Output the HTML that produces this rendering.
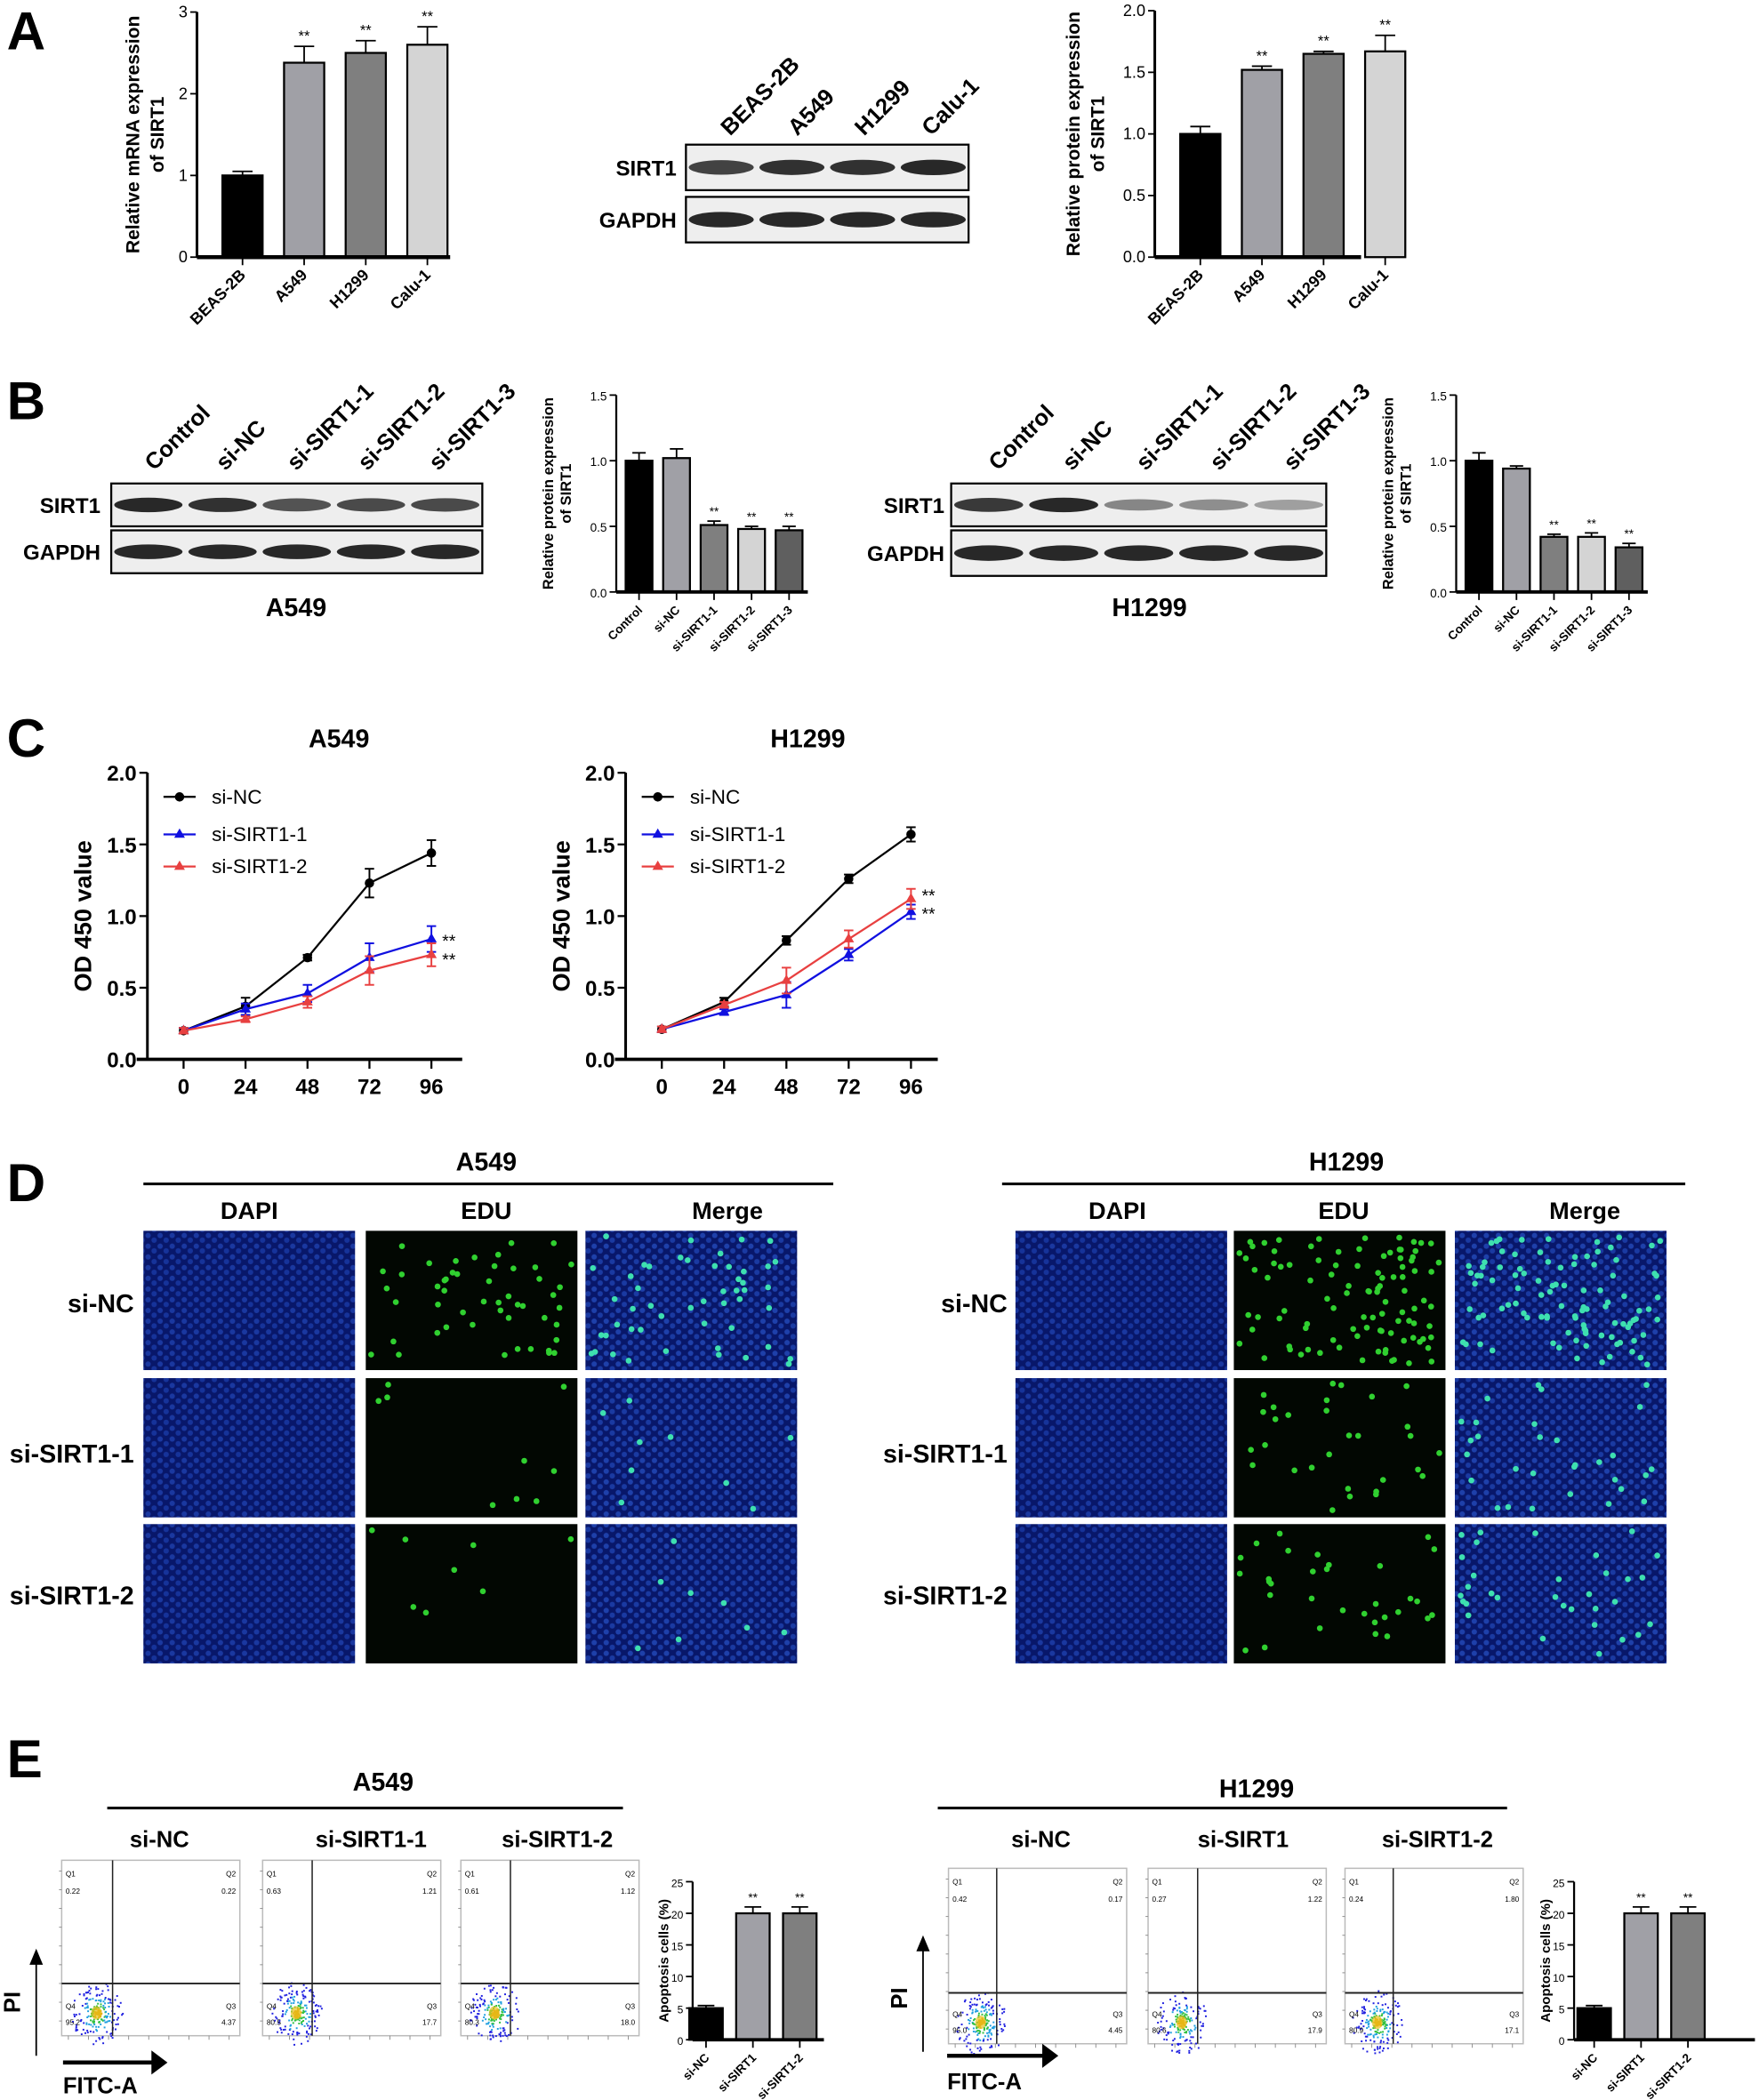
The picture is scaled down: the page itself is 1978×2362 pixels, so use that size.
<!DOCTYPE html>
<html><head><meta charset="utf-8"><style>
html,body{margin:0;padding:0;background:#fff}
svg{display:block}
text{font-family:"Liberation Sans",Arial,sans-serif}
</style></head><body>
<svg id="fig" width="1978" height="2362" viewBox="0 0 1313 1568" xmlns="http://www.w3.org/2000/svg">
<defs>
<pattern id="dapi" width="9" height="8" patternUnits="userSpaceOnUse"><rect width="9" height="8" fill="#08176a"/><circle cx="2.5" cy="2.5" r="2" fill="#1a38a0"/><circle cx="7" cy="6" r="2" fill="#16339a"/></pattern>
<pattern id="merge" width="9" height="8" patternUnits="userSpaceOnUse"><rect width="9" height="8" fill="#08176a"/><circle cx="2.5" cy="2.5" r="2" fill="#1e40aa"/><circle cx="7" cy="6" r="2" fill="#1a3aa2"/></pattern>
</defs>
<g id="root"></g>
</svg>
<script>
// ===== Data =====
const mrnaCats=["BEAS-2B","A549","H1299","Calu-1"];
const mrnaVals=[1.0,2.38,2.5,2.6];
const mrnaErr=[0.05,0.2,0.15,0.22];
const protCats=["BEAS-2B","A549","H1299","Calu-1"];
const protVals=[1.0,1.52,1.65,1.67];
const protErr=[0.06,0.03,0.02,0.13];
const siCats=["Control","si-NC","si-SIRT1-1","si-SIRT1-2","si-SIRT1-3"];
const siA549Vals=[1.0,1.02,0.51,0.48,0.47];
const siA549Err=[0.06,0.07,0.03,0.02,0.03];
const siH1299Vals=[1.0,0.94,0.42,0.42,0.34];
const siH1299Err=[0.06,0.02,0.02,0.03,0.03];
const timeTicks=[0,24,48,72,96];
const a549NC=[0.2,0.37,0.71,1.23,1.44];
const a549S1=[0.2,0.35,0.46,0.71,0.84];
const a549S2=[0.2,0.28,0.4,0.62,0.73];
const a549NCerr=[0.02,0.06,0.02,0.1,0.09];
const a549S1err=[0.02,0.04,0.06,0.1,0.09];
const a549S2err=[0.02,0.02,0.04,0.1,0.08];
const h1299NC=[0.21,0.4,0.83,1.26,1.57];
const h1299S1=[0.21,0.33,0.45,0.73,1.03];
const h1299S2=[0.21,0.38,0.55,0.84,1.12];
const h1299NCerr=[0.02,0.03,0.03,0.03,0.05];
const h1299S1err=[0.02,0.02,0.09,0.04,0.05];
const h1299S2err=[0.02,0.02,0.09,0.06,0.07];
const apoA549Cats=["si-NC","si-SIRT1","si-SIRT1-2"];
const apoA549Vals=[5,20,20];
const apoA549Err=[0.4,1,1];
const apoH1299Cats=["si-NC","si-SIRT1","si-SIRT1-2"];
const apoH1299Vals=[5,20,20];
const apoH1299Err=[0.4,1,1];

const NS="http://www.w3.org/2000/svg";
const root=document.getElementById('root');
function mk(tag,attrs,parent,txt){const e=document.createElementNS(NS,tag);for(const k in attrs)e.setAttribute(k,attrs[k]);if(txt!==undefined)e.textContent=txt;(parent||root).appendChild(e);return e;}
function txt(x,y,s,size,opts,parent){opts=opts||{};const a={x:x,y:y,'font-size':size,'font-weight':opts.w||'bold','text-anchor':opts.a||'start',fill:opts.fill||'#000'};if(opts.rot!==undefined)a.transform='rotate('+opts.rot+' '+x+' '+y+')';const t=mk('text',a,parent,s);return t;}

// ===== Bar chart =====
function barChart(name,cfg,cats,vals,errs){
  const g=mk('g',{});
  
  
  const y=v=>cfg.y0-(v/cfg.max)*(cfg.y0-cfg.y1);
  const lw=cfg.lw||2;
  cats.forEach((c,i)=>{
    const cx=cfg.x0+cfg.first+i*cfg.step;
    const top=y(vals[i]);
    const b=mk('rect',{x:cx-cfg.bw/2,y:top,width:cfg.bw,height:cfg.y0-top,fill:cfg.colors[i],stroke:'#000','stroke-width':1.5},g);
    
    
    const et=y(vals[i]+errs[i]);
    mk('line',{x1:cx,x2:cx,y1:top,y2:et,stroke:'#000','stroke-width':1.2},g);
    mk('line',{x1:cx-cfg.bw/4,x2:cx+cfg.bw/4,y1:et,y2:et,stroke:'#000','stroke-width':1.2},g);
    if(cfg.stars&&cfg.stars[i]) txt(cx,et-4,'**',cfg.starSize||11,{a:'middle',w:'normal'},g);
    mk('line',{x1:cx,x2:cx,y1:cfg.y0,y2:cfg.y0+6,stroke:'#000','stroke-width':1.2},g);
    txt(cx+3,cfg.y0+14,c,cfg.catSize||11,{a:'end',rot:-45},g);
  });
  mk('line',{x1:cfg.x0,x2:cfg.x0,y1:cfg.y1,y2:cfg.y0,stroke:'#000','stroke-width':lw},g);
  mk('line',{x1:cfg.x0,x2:cfg.xEnd,y1:cfg.y0,y2:cfg.y0,stroke:'#000','stroke-width':lw+1},g);
  cfg.ticks.forEach(t=>{const ty=y(t);mk('line',{x1:cfg.x0-5,x2:cfg.x0,y1:ty,y2:ty,stroke:'#000','stroke-width':1.2},g);txt(cfg.x0-7,ty+4,cfg.tickFmt?cfg.tickFmt(t):String(t),cfg.tickSize||11,{a:'end',w:'normal'},g);});
  const midY=(cfg.y0+cfg.y1)/2;
  cfg.title.forEach((s,k)=>txt(cfg.titleX+k*cfg.titleGap,midY,s,cfg.titleSize||13,{a:'middle',rot:-90},g));
  return g;
}
// ===== Blot =====
function blot(name,x,y,w,h1,h2,gap,lanes,sirtInt,labelX){
  const g=mk('g',{});
  
  
  [[y,h1,sirtInt,'SIRT1'],[y+h1+gap,h2,lanes.map(()=>1),'GAPDH']].forEach(([yy,hh,ints,lab])=>{
    mk('rect',{x:x,y:yy,width:w,height:hh,fill:'#eeeeee',stroke:'#000','stroke-width':1.5},g);
    const lw=w/lanes.length;
    lanes.forEach((l,i)=>{const inten=ints[i];const c=Math.round(40+(1-inten)*170);
      mk('ellipse',{cx:x+lw*(i+0.5),cy:yy+hh/2,rx:lw*0.46,ry:hh*0.17*(0.6+0.4*inten),fill:'rgb('+c+','+c+','+c+')'},g);});
    txt(labelX,yy+hh/2+6,lab,16,{a:'end'},g);
  });
  return g;
}

[["A",5,37],["B",5,313],["C",5,565],["D",5,897],["E",5,1327]].forEach(([l,x,y])=>{const t=txt(x,y,l,40,{});});

// ===== Panel A =====
barChart('mrna-bar-chart',{x0:147,y0:192,y1:9,max:3,first:34,step:46,bw:30,xEnd:336,colors:['#000','#a0a0a6','#7f7f7f','#d4d4d4'],ticks:[0,1,2,3],stars:[0,1,1,1],title:['Relative mRNA expression','of SIRT1'],titleX:104,titleGap:18,titleSize:14,catSize:12,tickSize:12},mrnaCats,mrnaVals,mrnaErr);
blot('blot-a',512,108,211,34,34,5,protCats,[0.85,0.95,0.95,1],505);
protCats.forEach((c,i)=>{txt(545+i*50,102,c,17,{rot:-45});});
barChart('protein-bar-chart',{x0:862,y0:192,y1:8,max:2,first:34,step:46,bw:30,xEnd:1016,colors:['#000','#a0a0a6','#7f7f7f','#d4d4d4'],ticks:[0,0.5,1,1.5,2],tickFmt:t=>t.toFixed(1),stars:[0,1,1,1],title:['Relative protein expression','of SIRT1'],titleX:806,titleGap:18,titleSize:14,catSize:12,tickSize:12},protCats,protVals,protErr);

// ===== Panel B =====
blot('blot-b-a549',83,361,277,32,32,3,siCats,[1,0.95,0.75,0.8,0.8],75);
siCats.forEach((c,i)=>txt(115+i*53,352,c,17,{rot:-45}));
txt(221,460,'A549',19,{a:'middle'});
barChart('si-a549-bar-chart',{x0:460,y0:442,y1:295,max:1.5,first:17,step:28,bw:20,xEnd:603,colors:['#000','#a0a0a6','#7f7f7f','#d4d4d4','#5f5f5f'],ticks:[0,0.5,1,1.5],tickFmt:t=>t.toFixed(1),stars:[0,0,1,1,1],starSize:9,title:['Relative protein expression','of SIRT1'],titleX:413,titleGap:13,titleSize:11,catSize:9,tickSize:9,lw:1.5},siCats,siA549Vals,siA549Err);
blot('blot-b-h1299',710,361,280,32,34,3,siCats,[0.9,1,0.45,0.4,0.3],705);
siCats.forEach((c,i)=>txt(745+i*55,352,c,17,{rot:-45}));
txt(858,460,'H1299',19,{a:'middle'});
barChart('si-h1299-bar-chart',{x0:1087,y0:442,y1:295,max:1.5,first:17,step:28,bw:20,xEnd:1230,colors:['#000','#a0a0a6','#7f7f7f','#d4d4d4','#5f5f5f'],ticks:[0,0.5,1,1.5],tickFmt:t=>t.toFixed(1),stars:[0,0,1,1,1],starSize:9,title:['Relative protein expression','of SIRT1'],titleX:1040,titleGap:13,titleSize:11,catSize:9,tickSize:9,lw:1.5},siCats,siH1299Vals,siH1299Err);

// ===== Panel C =====
function lineChart(name,cfg,series){
  const g=mk('g',{});
  
  
  const X=t=>cfg.xa+(t/96)*(cfg.xb-cfg.xa);
  const Y=v=>cfg.y0-(v/2)*(cfg.y0-cfg.y1);
  txt(cfg.titleX,558,cfg.title,19,{a:'middle'},g);
  mk('line',{x1:cfg.x0,x2:cfg.x0,y1:cfg.y1,y2:cfg.y0,stroke:'#000','stroke-width':2},g);
  mk('line',{x1:cfg.x0-8,x2:cfg.xEnd,y1:cfg.y0,y2:cfg.y0,stroke:'#000','stroke-width':2.5},g);
  [0,0.5,1,1.5,2].forEach(t=>{const ty=Y(t);mk('line',{x1:cfg.x0-6,x2:cfg.x0,y1:ty,y2:ty,stroke:'#000','stroke-width':1.5},g);txt(cfg.x0-8,ty+6,t.toFixed(1),16,{a:'end'},g);});
  timeTicks.forEach(t=>{mk('line',{x1:X(t),x2:X(t),y1:cfg.y0,y2:cfg.y0+7,stroke:'#000','stroke-width':1.5},g);txt(X(t),cfg.y0+26,String(t),16,{a:'middle'},g);});
  txt(cfg.x0-42,(cfg.y0+cfg.y1)/2,'OD 450 value',18,{a:'middle',rot:-90},g);
  series.forEach((s,si)=>{
    const sg=mk('g',{},g);
    
    
    mk('polyline',{points:timeTicks.map((t,i)=>X(t)+','+Y(s.v[i])).join(' '),fill:'none',stroke:s.c,'stroke-width':1.5},sg);
    timeTicks.forEach((t,i)=>{const x=X(t),y=Y(s.v[i]),e=s.e[i]*(cfg.y0-cfg.y1)/2;
      mk('line',{x1:x,x2:x,y1:y-e,y2:y+e,stroke:s.c,'stroke-width':1.3},sg);
      mk('line',{x1:x-3.5,x2:x+3.5,y1:y-e,y2:y-e,stroke:s.c,'stroke-width':1.3},sg);
      mk('line',{x1:x-3.5,x2:x+3.5,y1:y+e,y2:y+e,stroke:s.c,'stroke-width':1.3},sg);
      if(s.m==='c')mk('circle',{cx:x,cy:y,r:3.5,fill:s.c},sg);else mk('path',{d:'M'+x+','+(y-4.5)+'L'+(x+4)+','+(y+2.5)+'L'+(x-4)+','+(y+2.5)+'Z',fill:s.c},sg);
    });
    const ly=cfg.legY[si];
    mk('line',{x1:cfg.x0+12,x2:cfg.x0+36,y1:ly,y2:ly,stroke:s.c,'stroke-width':1.5},sg);
    const lx=cfg.x0+24;
    if(s.m==='c')mk('circle',{cx:lx,cy:ly,r:3.5,fill:s.c},sg);else mk('path',{d:'M'+lx+','+(ly-4.5)+'L'+(lx+4)+','+(ly+2.5)+'L'+(lx-4)+','+(ly+2.5)+'Z',fill:s.c},sg);
    txt(cfg.x0+48,ly+5,s.name,15,{w:'normal'},sg);
    if(s.star!==undefined)txt(X(96)+8,Y(s.v[4])+s.star,'**',13,{w:'normal'},sg);
  });
}
lineChart('cck8-a549-chart',{x0:110,xEnd:345,xa:137,xb:322,y0:791,y1:577,title:'A549',titleX:253,legY:[595,623,647]},[
 {name:'si-NC',v:a549NC,e:a549NCerr,c:'#000',m:'c'},
 {name:'si-SIRT1-1',v:a549S1,e:a549S1err,c:'#1010e0',m:'t',star:6},
 {name:'si-SIRT1-2',v:a549S2,e:a549S2err,c:'#e84040',m:'t',star:8}]);
lineChart('cck8-h1299-chart',{x0:467,xEnd:700,xa:494,xb:680,y0:791,y1:577,title:'H1299',titleX:603,legY:[595,623,647]},[
 {name:'si-NC',v:h1299NC,e:h1299NCerr,c:'#000',m:'c'},
 {name:'si-SIRT1-1',v:h1299S1,e:h1299S1err,c:'#1010e0',m:'t',star:6},
 {name:'si-SIRT1-2',v:h1299S2,e:h1299S2err,c:'#e84040',m:'t',star:2}]);

// ===== Panel D =====
let seed=7;function rnd(){seed=(seed*16807)%2147483647;return seed/2147483647;}
function edu(name,xs,ys,greens){
  const g=mk('g',{});
  
  
  ys.forEach((y,r)=>{
    const h=104;
    xs.forEach((x,c)=>{
      const w=158;
      const fill=c===0?'url(#dapi)':c===1?'#020702':'url(#merge)';
      const im=mk('rect',{x:x,y:y,width:w,height:h,fill:fill},g);
      
      
      if(c>0){for(let k=0;k<greens[r];k++){const cx=x+4+rnd()*(w-8),cy=y+4+rnd()*(h-8);mk('circle',{cx:cx,cy:cy,r:2.2,fill:c===1?'#30d030':'#3ee0b0'},g);}}
    });
  });
  return g;
}
function dHeader(cx,x1,x2,xs){txt(cx,874,cx<700?'A549':'H1299',19,{a:'middle'});mk('line',{x1:x1,x2:x2,y1:884,y2:884,stroke:'#000','stroke-width':2});[['DAPI',79],['EDU',90],['Merge',106]].forEach(([s,o],i)=>txt(xs[i]+o,910,s,18,{a:'middle'}));}
dHeader(363,107,622,[107,273,437]);
dHeader(1005,748,1258,[755,913,1077]);
edu('edu-a549-grid',[107,273,437],[919,1029,1138],[50,9,8]);
edu('edu-h1299-grid',[758,921,1086],[919,1029,1138],[100,30,32]);
[['si-NC',980],['si-SIRT1-1',1092],['si-SIRT1-2',1198]].forEach(([s,y])=>{txt(100,y,s,19,{a:'end'});txt(752,y,s,19,{a:'end'});});

// ===== Panel E =====
function flow(name,x,y,q,vx,hy){
  const g=mk('g',{});
  
  
  const w=133,h=131;
  mk('rect',{x:x,y:y,width:w,height:h,fill:'#fff',stroke:'#bbb','stroke-width':1},g);
  for(let i=0;i<9;i++){mk('line',{x1:x-2,x2:x,y1:y+8+i*14,y2:y+8+i*14,stroke:'#888','stroke-width':0.6},g);mk('line',{x1:x+5+i*15,x2:x+5+i*15,y1:y+h,y2:y+h+3,stroke:'#888','stroke-width':0.6},g);}
  const cx=vx-12,cy=hy+22;
  for(let k=0;k<220;k++){const a=rnd()*6.28,r=Math.pow(rnd(),1.3)*24;const col=r<4?'#e0a000':r<8?'#30c040':r<13?'#20a0e0':'#2020e0';mk('rect',{x:cx+Math.cos(a)*r*0.8,y:cy+Math.sin(a)*r,width:1.3,height:1.3,fill:col},g);}
  mk('ellipse',{cx:cx,cy:cy,rx:4,ry:5,fill:'#e8c020',opacity:0.7},g);
  mk('line',{x1:vx,x2:vx,y1:y,y2:y+h,stroke:'#222','stroke-width':1},g);
  mk('line',{x1:x,x2:x+w,y1:hy,y2:hy,stroke:'#222','stroke-width':1.3},g);
  txt(x+3,y+12,'Q1',5.5,{w:'normal'},g);txt(x+3,y+25,q[0],5.5,{w:'normal'},g);
  txt(x+w-3,y+12,'Q2',5.5,{w:'normal',a:'end'},g);txt(x+w-3,y+25,q[1],5.5,{w:'normal',a:'end'},g);
  txt(x+3,y+h-20,'Q4',5.5,{w:'normal'},g);txt(x+3,y+h-8,q[3],5.5,{w:'normal'},g);
  txt(x+w-3,y+h-20,'Q3',5.5,{w:'normal',a:'end'},g);txt(x+w-3,y+h-8,q[2],5.5,{w:'normal',a:'end'},g);
}
function eHeader(cx,ty,x1,x2,labs,lxs){txt(cx,ty,cx<600?'A549':'H1299',19,{a:'middle'});mk('line',{x1:x1,x2:x2,y1:1350,y2:1350,stroke:'#000','stroke-width':2});labs.forEach((s,i)=>txt(lxs[i],1379,s,17,{a:'middle'}));}
eHeader(286,1337,80,465,['si-NC','si-SIRT1-1','si-SIRT1-2'],[119,277,416]);
eHeader(938,1342,700,1125,['si-NC','si-SIRT1','si-SIRT1-2'],[777,928,1073]);
flow('flow-a549-sinc',46,1389,['0.22','0.22','4.37','95.2'],84,1481);
flow('flow-a549-sirt1-1',196,1389,['0.63','1.21','17.7','80.5'],233,1481);
flow('flow-a549-sirt1-2',344,1389,['0.61','1.12','18.0','80.3'],381,1481);
flow('flow-h1299-sinc',708,1395,['0.42','0.17','4.45','95.0'],744,1488);
flow('flow-h1299-sirt1',857,1395,['0.27','1.22','17.9','80.6'],894,1488);
flow('flow-h1299-sirt1-2',1004,1395,['0.24','1.80','17.1','80.9'],1040,1488);
function axesArrows(px,py0,py1,fx0,fx1,fy,ty){
  mk('line',{x1:px,x2:px,y1:py0,y2:py1+10,stroke:'#000','stroke-width':1.2});
  mk('path',{d:'M'+(px-5)+','+(py1+12)+'L'+px+','+py1+'L'+(px+5)+','+(py1+12)+'Z',fill:'#000'});
  txt(px-12,py0-40,'PI',17,{a:'middle',rot:-90});
  mk('line',{x1:fx0,x2:fx1-10,y1:fy,y2:fy,stroke:'#000','stroke-width':3});
  mk('path',{d:'M'+(fx1-12)+','+(fy-9)+'L'+fx1+','+fy+'L'+(fx1-12)+','+(fy+9)+'Z',fill:'#000'});
  txt(fx0,ty,'FITC-A',17,{});
}
axesArrows(27,1535,1455,47,125,1540,1563);
axesArrows(689,1532,1445,707,790,1535,1560);
barChart('apoptosis-a549-bar-chart',{x0:517,y0:1523,y1:1405,max:25,first:10,step:35,bw:25,xEnd:615,colors:['#000','#a0a0a6','#7f7f7f'],ticks:[0,5,10,15,20,25],stars:[0,1,1],starSize:9,title:['Apoptosis cells (%)'],titleX:499,titleGap:0,titleSize:10,catSize:9,tickSize:8,lw:1.5},apoA549Cats,apoA549Vals,apoA549Err);
barChart('apoptosis-h1299-bar-chart',{x0:1175,y0:1523,y1:1405,max:25,first:15,step:35,bw:25,xEnd:1310,colors:['#000','#a0a0a6','#7f7f7f'],ticks:[0,5,10,15,20,25],stars:[0,1,1],starSize:9,title:['Apoptosis cells (%)'],titleX:1157,titleGap:0,titleSize:10,catSize:9,tickSize:8,lw:1.5},apoH1299Cats,apoH1299Vals,apoH1299Err);
</script>
</body></html>
